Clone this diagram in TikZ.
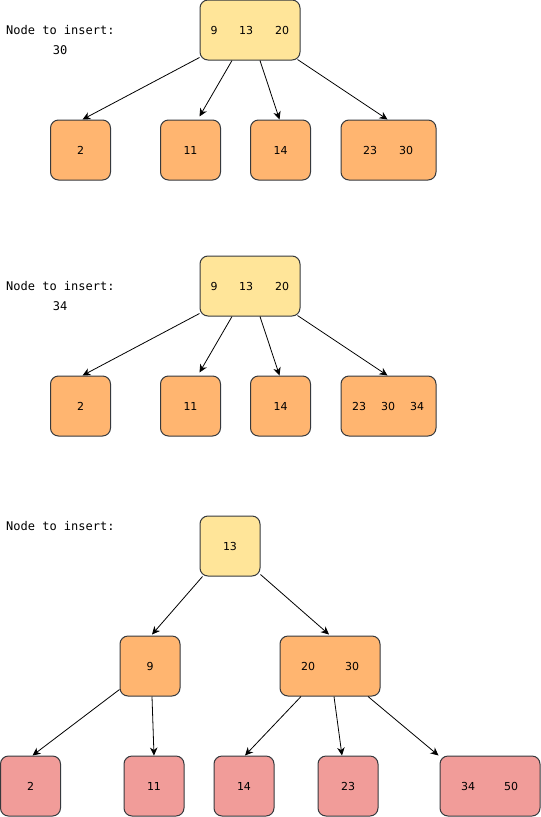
\documentclass[tikz,border=0pt]{standalone}
\usepackage{fontspec}
\setmainfont{DejaVu Sans}
\newfontfamily\monof{DejaVu Sans Mono}
\usetikzlibrary{arrows.meta,calc}
\definecolor{yel}{HTML}{FFE599}
\definecolor{ora}{HTML}{FFB570}
\definecolor{pnk}{HTML}{F19C99}
\definecolor{bord}{HTML}{36393D}
\begin{document}
\begin{tikzpicture}[x=1pt,y=-1pt,
  box/.style={draw=bord,line width=1pt,rounded corners=8pt,minimum height=60pt,minimum width=60pt,inner sep=0pt,font=\fontsize{11}{13}\selectfont},
  ybox/.style={box,fill=yel},
  obox/.style={box,fill=ora},
  pbox/.style={box,fill=pnk},
  num/.style={inner sep=0pt,font=\fontsize{11}{13}\selectfont},
  lbl/.style={inner sep=0pt,font=\monof\fontsize{12}{14}\selectfont},
  arr/.style={-{Stealth[length=8pt,width=7.5pt,inset=2.5pt]},line width=0.8pt,black}]
\useasboundingbox (0,0) rectangle (541,817);

% ---------- section 1 ----------
\node[lbl,anchor=west] (t1) at (6,30) {Node to insert:};
\node[lbl] (v1) at (60,50) {30};
\node[ybox,minimum width=100pt] (r1) at (250,30) {};
\node[num] (r1a) at (214,30) {9};
\node[num] (r1b) at (246,30) {13};
\node[num] (r1c) at (282,30) {20};
\node[obox] (a1) at (80.5,150) {2};
\node[obox] (a2) at (190.5,150) {11};
\node[obox] (a3) at (280.5,150) {14};
\node[obox,minimum width=95pt] (a4) at (388.5,150) {};
\node[num] (a4a) at (370,150) {23};
\node[num] (a4b) at (406,150) {30};
\draw[arr] ($(r1.south west)+(0,-3)$) -- ($(a1.north)+(2,0)$);
\draw[arr] ($(r1.south)+(-18,0)$) -- ($(a2.north)+(9,-3)$);
\draw[arr] ($(r1.south)+(10,0)$) -- ($(a3.north)+(-1,0)$);
\draw[arr] ($(r1.south east)+(-3,-1)$) -- ($(a4.north)+(-1,0)$);

% ---------- section 2 ----------
\node[lbl,anchor=west] (t2) at (6,286) {Node to insert:};
\node[lbl] (v2) at (60,306) {34};
\node[ybox,minimum width=100pt] (r2) at (250,286) {};
\node[num] (r2a) at (214,286) {9};
\node[num] (r2b) at (246,286) {13};
\node[num] (r2c) at (282,286) {20};
\node[obox] (b1) at (80.5,406) {2};
\node[obox] (b2) at (190.5,406) {11};
\node[obox] (b3) at (280.5,406) {14};
\node[obox,minimum width=95pt] (b4) at (388.5,406) {};
\node[num] (b4a) at (359,406) {23};
\node[num] (b4b) at (388,406) {30};
\node[num] (b4c) at (417,406) {34};
\draw[arr] ($(r2.south west)+(0,-3)$) -- ($(b1.north)+(2,0)$);
\draw[arr] ($(r2.south)+(-18,0)$) -- ($(b2.north)+(9,-3)$);
\draw[arr] ($(r2.south)+(10,0)$) -- ($(b3.north)+(-1,0)$);
\draw[arr] ($(r2.south east)+(-3,-1)$) -- ($(b4.north)+(-1,0)$);

% ---------- section 3 ----------
\node[lbl,anchor=west] (t3) at (6,526) {Node to insert:};
\node[ybox] (r3) at (230,546) {13};
\node[obox] (m1) at (150,666) {9};
\node[obox,minimum width=100pt] (m2) at (330,666) {};
\node[num] (m2a) at (308,666) {20};
\node[num] (m2b) at (352,666) {30};
\node[pbox] (l1) at (30.5,786) {2};
\node[pbox] (l2) at (154,786) {11};
\node[pbox] (l3) at (244,786) {14};
\node[pbox] (l4) at (348,786) {23};
\node[pbox,minimum width=100pt] (l5) at (490,786) {};
\node[num] (l5a) at (468,786) {34};
\node[num] (l5b) at (511,786) {50};
\draw[arr] ($(r3.south west)+(3,0)$) -- ($(m1.north)+(2,-1)$);
\draw[arr] ($(r3.south east)+(0,-2)$) -- ($(m2.north)+(-1,-1)$);
\draw[arr] ($(m1.south west)+(0,-7)$) -- ($(l1.north)+(2,0)$);
\draw[arr] ($(m1.south)+(2,0)$) -- (l2.north);
\draw[arr] ($(m2.south)+(-29,0)$) -- ($(l3.north)+(1,0)$);
\draw[arr] ($(m2.south)+(4,0)$) -- ($(l4.north)+(-6,0)$);
\draw[arr] ($(m2.south)+(38,0)$) -- ($(l5.north west)+(-1,0)$);
\end{tikzpicture}
\end{document}
